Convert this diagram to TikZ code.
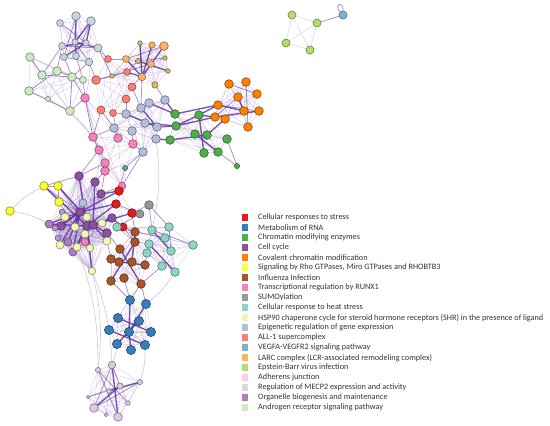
\documentclass[tikz,border=0pt]{standalone}
\usepackage{fontspec}
\setmainfont{Carlito}
\pgfdeclarelayer{bg}
\pgfsetlayers{bg,main}
\definecolor{cRed}{HTML}{E41A1C}
\definecolor{cRna}{HTML}{377EB8}
\definecolor{cGreen}{HTML}{4DAF4A}
\definecolor{cPurple}{HTML}{8E4FA3}
\definecolor{cOrange}{HTML}{FF7F00}
\definecolor{cYellow}{HTML}{FFFF33}
\definecolor{cBrown}{HTML}{A65628}
\definecolor{cPink}{HTML}{F781BF}
\definecolor{cGrey}{HTML}{999999}
\definecolor{cTeal}{HTML}{8DD3C7}
\definecolor{cLYellow}{HTML}{F4F7B3}
\definecolor{cLav}{HTML}{B4BEDC}
\definecolor{cSalmon}{HTML}{FB8072}
\definecolor{cSteel}{HTML}{80B1D3}
\definecolor{cLOrange}{HTML}{FDB462}
\definecolor{cOlive}{HTML}{D2BC6E}
\definecolor{cLime}{HTML}{B3DE69}
\definecolor{cLPink}{HTML}{FCCDE5}
\definecolor{cLGrey}{HTML}{D9D9D9}
\definecolor{cMauve}{HTML}{AE7CC0}
\definecolor{cMint}{HTML}{CCEBC5}
\definecolor{cTopBlue}{HTML}{C2D7E2}
\definecolor{cSmLav}{HTML}{B09CD2}
\definecolor{cLilac}{HTML}{DDCBE4}
\definecolor{cGTeal}{HTML}{6F9C9C}
\definecolor{eThin}{HTML}{A58CC9}
\definecolor{eMid}{HTML}{7C55B5}
\definecolor{eThick}{HTML}{5B2F9E}
\definecolor{legText}{HTML}{333333}
\tikzset{
  net/.style={circle,inner sep=0pt,line width=0.55pt},
  thinedge/.style={draw=eThin,line width=0.4pt,opacity=0.45},
  midedge/.style={draw=eMid,line width=0.75pt,opacity=0.65},
  thickedge/.style={draw=eThick,line width=1.4pt,opacity=0.8},
  legbox/.style={inner sep=0pt,minimum size=6.5pt},
  legtext/.style={anchor=west,inner sep=0pt,text=legText,font=\fontsize{8.25}{9}\selectfont}
}
\newcommand\mkclique[2]{%
  \foreach \i in {1,...,#2}{\foreach \j in {1,...,#2}{%
    \ifnum\i<\j \draw[thinedge] (#1\i.center) -- (#1\j.center);\fi}}}
\begin{document}
\begin{tikzpicture}[x=1pt,y=-1pt]
\useasboundingbox (0,0) rectangle (550,426);
% ---------- nodes ----------
\foreach \n/\x/\y/\c/\s in {
 lb1/76/16/cTopBlue/7.5, lb2/91/21/cTopBlue/7.5, lb3/60/23/cTopBlue/6, lb4/62/46/cTopBlue/6,
 lb5/75/42/cTopBlue/5.5, lb6/86/43/cTopBlue/5.5, lb7/98/48/cTopBlue/7, lb8/64/57/cTopBlue/6,
 lb9/76/56/cTopBlue/6, lb10/89/62/cTopBlue/6.5,
 mg1/30/57/cMint/7.5, mg2/57/71/cMint/7.5, mg3/42/75/cMint/7.5, mg4/72/77/cMint/7.5,
 mg5/83/80/cMint/6, mg6/29/91/cMint/7.5, mg7/48/99/cMint/4.5, mg8/70/111/cMint/7.5,
 sa1/108/59/cSalmon/6, sa2/96/80/cSalmon/7.5, sa3/127/72/cSalmon/6, sa4/132/87/cSalmon/7,
 sa5/126/99/cSalmon/7, sa6/101/110/cSalmon/7, sa7/113/113/cSalmon/6,
 lo1/126/59/cLOrange/6, lo2/152/45/cLOrange/5.5, lo3/164/46/cLOrange/7.5, lo4/151/64/cLOrange/6,
 lo5/142/77/cLOrange/6.5, lo6/155/85/cOlive/5.5, lo7/140/43/cOlive/4, lo8/138/61/cOlive/4.5,
 lo9/165/58/cOlive/4, lo10/168/71/cOlive/4, lo11/112/76/cOlive/4,
 pk1/85/98/cPink/7.5, pk2/93/137/cPink/7.5, pk3/118/138/cPink/7.5, pk4/133/144/cPink/7.5,
 pk5/99/150/cPink/7.5, pk6/105/163/cPink/7.5, pk7/105/171/cPink/7.5, pk8/122/186/cPink/6.5,
 lv1/141/108/cLav/7.5, lv2/149/103/cLav/7.5, lv3/165/100/cLav/7.5, lv4/126/114/cLav/7.5,
 lv5/145/123/cLav/7.5, lv6/157/127/cLav/7.5, lv7/114/128/cLav/7.5, lv8/132/131/cLav/7.5,
 lv9/156/139/cLav/7.5, lv10/143/152/cLav/7.5,
 gr1/175/114/cGreen/7.5, gr2/176/126/cGreen/7.5, gr3/170/140/cGreen/7.5, gr4/199/115/cGreen/7.5,
 gr5/195/134/cGreen/7.5, gr6/207/135/cGreen/7.5, gr7/227/139/cGreen/7.5, gr8/204/153/cGreen/7.5,
 gr9/218/152/cGreen/7.5, gr10/237/166/cGreen/4.5,
 or1/229/84/cOrange/7.5, or2/246/82/cOrange/7.5, or3/238/97/cOrange/7.5, or4/257/94/cOrange/7.5,
 or5/218/105/cOrange/7.5, or6/215/117/cOrange/7.5, or7/225/119/cOrange/7.5, or8/244/111/cOrange/7.5,
 or9/259/111/cOrange/7.5, or10/248/127/cOrange/7.5,
 gt1/125/168/cGTeal/4.5,
 h1/79/176/cPurple/7.5, h2/95/182/cPurple/7.5, h3/101/194/cPurple/7.5, h4/80/212/cPurple/7.5,
 h5/61/226/cPurple/7.5, h6/87/226/cPurple/7.5, h7/93/225/cPurple/7.5, h8/112/218/cPurple/7.5,
 h9/107/233/cPurple/7.5, h10/49/224/cMauve/7, h11/68/242/cMauve/7, h12/73/252/cMauve/7,
 h13/83/203/cLav/7, h14/62/212/cSmLav/5, h15/55/228/cSmLav/5, h16/58/238/cSmLav/5,
 h17/65/217/cLYellow/7, h18/87/217/cLYellow/7, h19/75/227/cLYellow/7, h20/102/223/cLYellow/7,
 h21/85/234/cLYellow/7, h22/107/241/cLYellow/7, h23/60/245/cLYellow/7, h24/77/247/cLYellow/7,
 h25/90/248/cLYellow/6.5, h26/92/271/cLYellow/6.5, h27/85/242/cPink/6.5,
 ye1/44/186/cYellow/7.5, ye2/58/186/cYellow/7.5, ye3/59/202/cYellow/7.5, ye4/10/211/cYellow/7.5,
 r1/119/191/cRed/7.5, r2/116/204/cRed/7.5, r3/132/213/cRed/7.5, r4/123/227/cRed/7,
 g1/149/205/cGrey/7.5, g2/140/214/cGrey/7,
 te1/117/227/cTeal/7.5, te2/152/230/cTeal/7.5, te3/169/227/cTeal/7.5, te4/165/238/cTeal/7.5,
 te5/149/244/cTeal/7.5, te6/193/245/cTeal/7.5, te7/147/253/cTeal/7.5, te8/171/251/cTeal/7.5,
 te9/162/266/cTeal/7.5, te10/175/272/cTeal/7.5,
 br1/135/232/cBrown/7.5, br2/135/242/cBrown/7.5, br3/120/249/cBrown/7.5, br4/111/259/cBrown/7.5,
 br5/119/262/cBrown/7.5, br6/132/262/cBrown/7.5, br7/145/265/cBrown/7.5, br8/124/278/cBrown/7.5,
 br9/111/281/cBrown/7.5, br10/141/284/cBrown/7.5,
 bl1/130/300/cRna/8, bl2/146/304/cRna/8, bl3/118/318/cRna/8, bl4/139/321/cRna/8,
 bl5/109/330/cRna/8, bl6/129/332/cRna/8, bl7/151/332/cRna/8, bl8/117/344/cRna/8,
 bl9/131/350/cRna/8, bl10/145/345/cRna/8,
 bt1/112/365/cLilac/6.5, bt2/98/370/cLilac/4.5, bt3/120/386/cLilac/5.5, bt4/140/382/cLilac/4.5,
 bt5/109/391/cLilac/4, bt6/88/397/cLilac/3, bt7/128/403/cLilac/4, bt8/94/408/cLilac/7.5,
 bt9/106/415/cLilac/3, bt10/118/417/cLilac/7.5,
 eb1/292/15/cLime/7, eb2/317/23/cLime/7, eb3/286/43/cLime/7, eb4/310/50/cLime/7,
 bs1/343/15/cSteel/7}
 \node[net,fill=\c,draw=\c!55!black,minimum size=1.15*\s pt] (\n) at (\x,\y) {};
% ---------- edges ----------
\begin{pgfonlayer}{bg}
\mkclique{lb}{10}
\mkclique{mg}{8}
\mkclique{sa}{7}
\mkclique{lo}{11}
\mkclique{pk}{8}
\mkclique{lv}{10}
\mkclique{gr}{9}
\mkclique{or}{10}
\mkclique{h}{27}
\mkclique{te}{10}
\mkclique{br}{10}
\mkclique{bl}{10}
\mkclique{bt}{10}
\mkclique{eb}{4}
\mkclique{r}{4}
% medium edges
\foreach \a/\b in {lb1/lb8,lb2/lb9,lb3/lb6,lb4/lb7,lb8/lb10,lb5/lb10,
  lb4/mg2,lb8/mg4,lb9/mg5,lb10/mg4,lb7/sa1,lb10/sa2,lb7/lo11,lb4/mg3,
  mg1/mg3,mg2/mg6,mg3/mg4,mg4/mg8,mg2/mg5,mg6/mg8,mg5/pk1,mg8/pk1,mg4/pk1,
  sa1/lo1,sa3/lo8,sa4/lo4,sa2/sa3,sa2/lo11,sa5/lv4,sa6/lv7,sa7/lv4,sa4/lv1,sa6/pk2,sa7/pk3,
  lo6/lv3,lo5/lv1,lo1/lo3,lo8/lo9,lo11/lo4,lo7/lo5,
  pk3/lv7,pk4/lv8,pk2/lv7,pk1/pk2,pk2/pk5,pk4/lv10,pk8/lv10,lv10/gt1,gt1/r1,
  gr10/gr7,gr10/gr9,or1/or4,or2/or10,or3/or6,or5/or9,
  h1/pk6,h2/pk7,h3/pk7,pk5/h1,pk8/r1,pk8/h3,
  r3/g1,r2/g2,r3/g2,r4/br1,r3/br1,r4/br2,h9/br3,h22/br4,
  br1/te4,br2/te5,br7/te7,br10/te9,g1/te2,g2/te1,g1/te3,te1/br1,te2/te6,te3/te8,
  br9/bl1,br10/bl1,br10/bl2,br8/bl1,
  ye1/ye2,ye2/ye3,ye1/ye3,ye1/h4,ye2/h4,ye3/h4,ye2/h6,ye3/h19,ye1/h1,
  bt1/bt8,bt2/bt10,bt3/bt6,bt4/bt8,bt1/bt3,bt2/bt7,
  bs1/eb2}
  \draw[midedge] (\a.center) -- (\b.center);
% thick edges
\foreach \a/\b in {lb1/lb5,lb2/lb5,lb5/lb9,lb6/lb8,lb2/lb6,lb4/lb6,lb5/lb7,
  lo1/lo5,lo5/lo2,lo5/lo3,lo8/lo10,lo7/lo5,sa3/lo5,
  lv3/gr1,lv6/gr2,lv9/gr3,lv2/gr1,lv5/gr2,lv1/lv6,lv4/lv6,
  gr1/or5,gr2/gr4,gr4/or5,gr4/or6,gr6/or7,gr2/or6,or5/or8,or6/or9,or3/or8,
  gr4/gr8,gr5/gr9,gr6/gr3,
  h4/r1,h4/r2,h6/r2,h7/r3,h8/r4,h3/r1,h4/h10,h4/h11,h4/h12,h4/h23,h6/h12,h6/h24,
  h7/h22,h6/h25,h6/h26,h4/h5,h4/h15,h7/h9,h7/h8,h1/h6,h2/h7,h4/h19,h6/h10,
  ye1/h6,ye2/h7,
  bl3/bl7,bl5/bl10,bl6/bl1,bl6/bl9,bl4/bl8,bl2/bl6,
  br1/br6,br2/br9,br3/br10,br5/br7,
  te2/te8,te5/te10,
  bt1/bt10,bt3/bt8,bt4/bt5}
  \draw[thickedge] (\a.center) -- (\b.center);
% long thin connectors
\foreach \a/\b in {h26/bt2,h26/bt1,h24/bt2,lv10/pk7,te10/bl2,mg7/pk2,mg8/pk5,
  lb10/pk1,lv9/te2,pk5/h2,ye4/ye1,ye4/h10,bl10/bt4,bl8/bt1}
  \draw[thinedge,opacity=0.7] (\a.center) to[bend left=10] (\b.center);
\draw[midedge] (bs1.north west) .. controls +(-7,-9) and +(1,-10) .. (bs1.north);
\end{pgfonlayer}
% ---------- legend ----------
\foreach \k/\c/\t in {
 0/cRed/Cellular responses to stress,
 1/cRna/Metabolism of RNA,
 2/cGreen/Chromatin modifying enzymes,
 3/cPurple/Cell cycle,
 4/cOrange/Covalent chromatin modification,
 5/cYellow/{Signaling by Rho GTPases, Miro GTPases and RHOBTB3},
 6/cBrown/Influenza Infection,
 7/cPink/Transcriptional regulation by RUNX1,
 8/cGrey/SUMOylation,
 9/cTeal/Cellular response to heat stress,
 10/cLYellow/HSP90 chaperone cycle for steroid hormone receptors (SHR) in the presence of ligand,
 11/cLav/Epigenetic regulation of gene expression,
 12/cSalmon/ALL-1 supercomplex,
 13/cSteel/VEGFA-VEGFR2 signaling pathway,
 14/cLOrange/LARC complex (LCR-associated remodeling complex),
 15/cLime/Epstein-Barr virus infection,
 16/cLPink/Adherens junction,
 17/cLGrey/Regulation of MECP2 expression and activity,
 18/cMauve/Organelle biogenesis and maintenance,
 19/cMint/Androgen receptor signaling pathway}
{
 \node[legbox,fill=\c] (lg\k) at (245,217.7+10*\k) {};
 \node[legtext] (lt\k) at (258,217.7+10*\k) {\t};
}
\end{tikzpicture}
\end{document}
